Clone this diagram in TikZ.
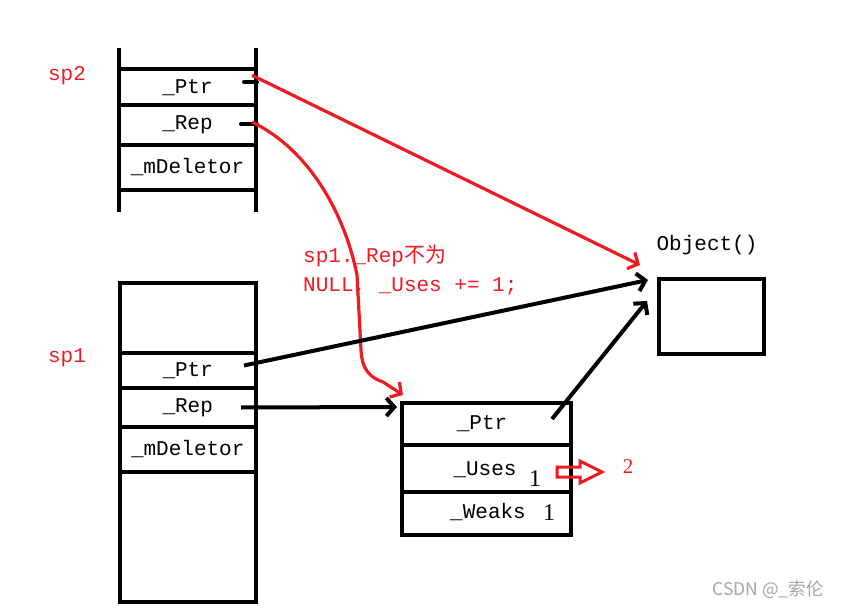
\documentclass[tikz,border=0pt]{standalone}
\usepackage{fontspec}
\setmainfont{Liberation Serif}
\setmonofont{Liberation Mono}
\newfontfamily\cjk{Noto Sans CJK SC}
\usetikzlibrary{arrows.meta}
\definecolor{pred}{HTML}{ED1C24}
\begin{document}
\begin{tikzpicture}[x=1pt,y=-1pt,
  mono/.style={font=\ttfamily\fontsize{21}{21}\selectfont},
  cell/.style={draw,line width=4pt,inner sep=0pt,outer sep=0pt,mono},
  box/.style={draw,line width=4pt,inner sep=0pt,outer sep=0pt},
  lbl/.style={mono,inner sep=0pt},
  num/.style={font=\fontsize{24}{24}\selectfont,inner sep=0pt},
  blk/.style={line width=4pt,-{Straight Barb[length=8pt,width=18pt]}},
  redarr/.style={pred,line width=3.2pt,-{Straight Barb[length=8pt,width=18pt]}},
  stub/.style={line width=4pt,line cap=round}]
\useasboundingbox (0,0) rectangle (845,609);
\fill[white] (0,0) rectangle (845,609);

% sp2 structure
\draw[line width=4pt] (119,48) -- (119,212);
\draw[line width=4pt] (256,48) -- (256,212);
\node[cell,minimum width=137pt,minimum height=35.5pt] (sp2ptr) at (187.5,87.25) {\_Ptr};
\node[cell,minimum width=137pt,minimum height=40pt] (sp2rep) at (187.5,125) {\_Rep};
\node[cell,minimum width=137pt,minimum height=45pt] (sp2del) at (187.5,167.5) {\_mDeletor};
\node[lbl,pred] (sp2lbl) at (67,76) {sp2};

% sp1 structure
\node[box,minimum width=136.5pt,minimum height=319pt] (sp1) at (187.75,442.5) {};
\node[cell,minimum width=136.5pt,minimum height=35pt] (sp1ptr) at (187.75,370.5) {\_Ptr};
\node[cell,minimum width=136.5pt,minimum height=39pt] (sp1rep) at (187.75,407.5) {\_Rep};
\node[cell,minimum width=136.5pt,minimum height=45pt] (sp1del) at (187.75,449.5) {\_mDeletor};
\node[lbl,pred] (sp1lbl) at (67,358) {sp1};

% Rep block
\node[box,minimum width=169pt,minimum height=42pt] (rptr) at (486.5,424) {};
\node[box,minimum width=169pt,minimum height=47pt] (ruses) at (486.5,468.5) {};
\node[box,minimum width=169pt,minimum height=43pt] (rweaks) at (486.5,513.5) {};
\node[lbl] (tptr) at (482,424) {\_Ptr};
\node[lbl] (tuses) at (485,470) {\_Uses};
\node[num] (one1) at (535,479) {1};
\node[lbl] (tweaks) at (488,512) {\_Weaks};
\node[num] (one2) at (549,513) {1};

% Object
\node[lbl] (objlbl) at (707,245) {Object()};
\node[box,minimum width=105pt,minimum height=75pt] (obj) at (711.5,316.5) {};

% red note
\node[lbl,pred,anchor=base west] (note1) at (303,263) {sp1.\_Rep{\cjk 不为}};
\node[lbl,pred,anchor=base west] (note2) at (303,291) {NULL, \_Uses += 1;};

% stubs
\draw[stub] ([xshift=-12pt,yshift=5pt]sp2ptr.east) -- ([xshift=1pt,yshift=5pt]sp2ptr.east);
\draw[stub] ([xshift=-15pt,yshift=1pt]sp2rep.east) -- ([xshift=1pt,yshift=1pt]sp2rep.east);

% red arrows
\coordinate (redtip1) at (640,265);
\draw[redarr] ([xshift=-4pt,yshift=12pt]sp2ptr.east) -- (redtip1);
\coordinate (redtip2) at (403,395);
\draw[redarr] ([xshift=-4pt,yshift=3pt]sp2rep.east) .. controls (310,150) and (345,215) .. (357,275)
  -- (361,350) .. controls (362,372) and (372,378) .. (383,382) -- (redtip2);

% black arrows
\coordinate (tipa) at (648,280);
\coordinate (tipb) at (647,301);
\draw[blk] ([xshift=-12pt,yshift=5pt]sp1ptr.east) -- (tipa);
\draw[blk] ([xshift=-15pt]sp1rep.east) -- ([xshift=-5pt,yshift=-4pt]rptr.north west);
\draw[blk] ([xshift=-19pt,yshift=5pt]rptr.east) -- (tipb);

% increment arrow
\draw[pred,line width=3pt,line join=miter] (557,467) -- (580,467) -- (580,461) -- (602,472) -- (580,483) -- (580,477) -- (557,477) -- cycle;
\node[pred,font=\fontsize{21}{21}\selectfont,inner sep=0pt] (two) at (628,467) {2};

% watermark
\node[gray!70,font=\cjk\fontsize{17.5}{17.5}\selectfont,inner sep=0pt] (wm) at (768,590) {CSDN @\_索伦};
\end{tikzpicture}
\end{document}
